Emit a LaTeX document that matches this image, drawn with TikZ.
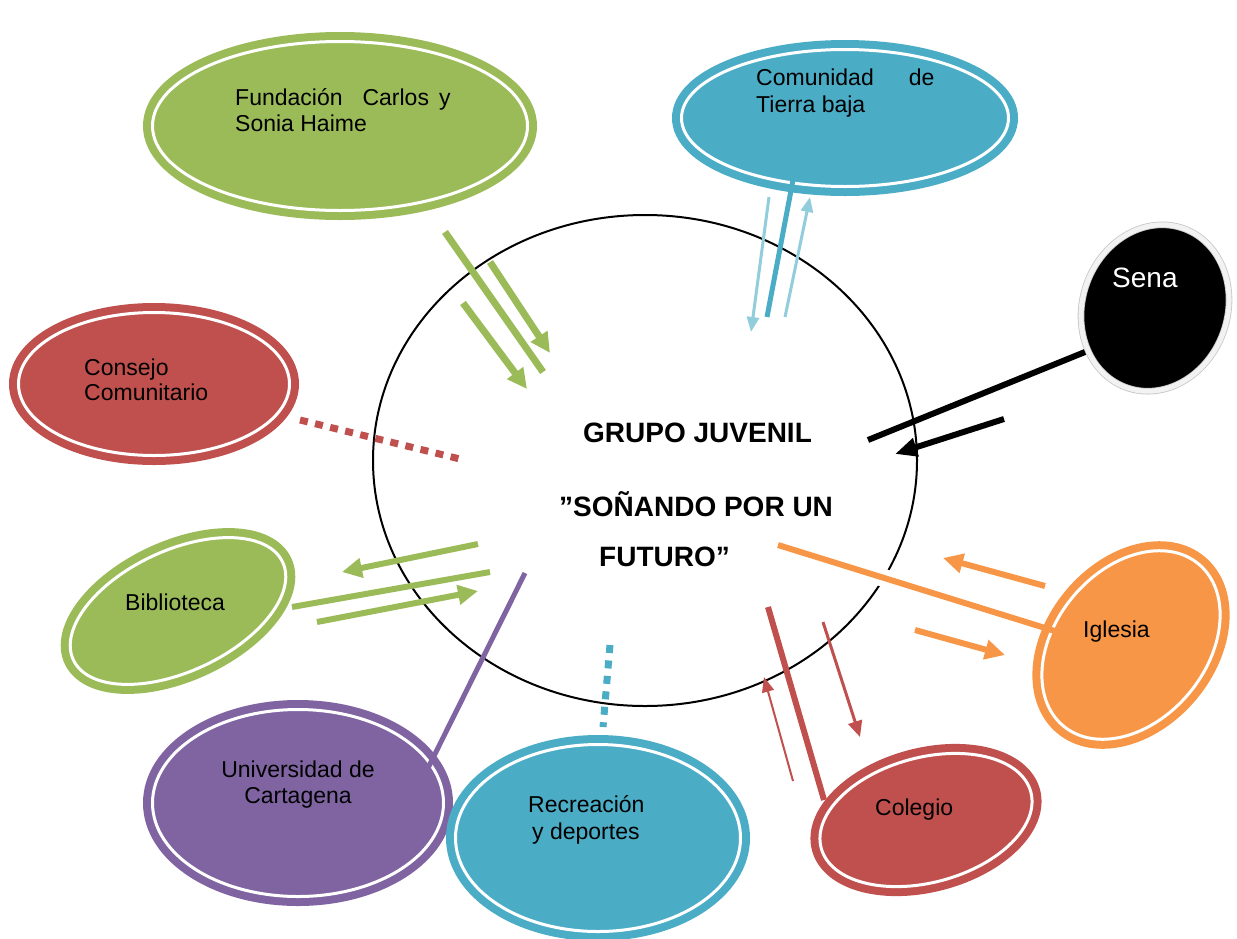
\documentclass[tikz,border=0pt]{standalone}
\usepackage{fontspec}
\setmainfont{Liberation Sans}
\usetikzlibrary{shapes.geometric,arrows.meta}
\definecolor{cgreen}{HTML}{9BBB59}
\definecolor{cteal}{HTML}{4BACC6}
\definecolor{cred}{HTML}{C0504D}
\definecolor{cpurple}{HTML}{8064A2}
\definecolor{corange}{HTML}{F79646}
\definecolor{clight}{HTML}{92CDDC}
\tikzset{
  ring/.style={ellipse, fill=#1, draw=#1, double=white, double distance=3pt, line width=8pt, inner sep=0pt, outer sep=0pt},
  senaring/.style={ellipse, fill=black, draw=gray!45, double=white!95!black, double distance=5pt, line width=0.8pt, inner sep=0pt},
  lbl/.style={anchor=base west, inner sep=0pt, font=\fontsize{23}{27}\selectfont},
  clbl/.style={anchor=base, inner sep=0pt, font=\fontsize{23}{27}\selectfont},
  blbl/.style={anchor=base west, inner sep=0pt, font=\fontsize{28}{32}\selectfont\bfseries},
  bigarrow/.style={-{Triangle[length=20pt,width=19pt]}},
  thinarrow/.style={-{Triangle[length=15pt,width=12pt]}},
  dotline/.style={dash pattern=on 8pt off 7.5pt},
}
\begin{document}
\begin{tikzpicture}[x=1pt,y=-1pt]
\useasboundingbox (0,0) rectangle (1237,938);
% ellipses
\node[ring=cgreen, minimum width=375pt, minimum height=169pt] (fund) at (340,126) {};
\node[ring=cteal, minimum width=327pt, minimum height=137pt] (comu) at (845,118) {};
\node[ring=cred, minimum width=271pt, minimum height=143pt] (cons) at (154,384) {};
\node[ring=cgreen, minimum width=231pt, minimum height=121pt, rotate=25] (bibl) at (178,611) {};
\node[ring=cpurple, minimum width=291pt, minimum height=187pt] (univ) at (298,803) {};
\node[ring=cteal, minimum width=285pt, minimum height=187pt] (recr) at (598,838) {};
\node[ring=cred, minimum width=217pt, minimum height=125pt, rotate=15] (cole) at (926,820) {};
\node[ring=corange, minimum width=211pt, minimum height=151pt, rotate=50] (igle) at (1131,645) {};
\node[senaring, minimum width=169pt, minimum height=145pt, rotate=70] (sena) at (1155,308) {};
% central circle
\node[ellipse, draw=black, line width=2pt, minimum width=544pt, minimum height=491pt, inner sep=0pt] (grupo) at (645,460.5) {};
% coordinates
\coordinate (f1a) at (445,232); \coordinate (f1b) at (543,372);
\coordinate (f2a) at (490,262); \coordinate (f2b) at (550,353);
\coordinate (f3a) at (463,303); \coordinate (f3b) at (527,389);
\coordinate (c1a) at (793,180); \coordinate (c1b) at (767,317);
\coordinate (c2a) at (769,197); \coordinate (c2b) at (751,332);
\coordinate (c3a) at (785,317); \coordinate (c3b) at (810,197);
\coordinate (s1a) at (1085,352); \coordinate (s1b) at (868,440);
\coordinate (s2a) at (1004,419); \coordinate (s2b) at (895,454);
\coordinate (k1a) at (300,420); \coordinate (k1b) at (460,459);
\coordinate (b1a) at (292,607); \coordinate (b1b) at (490,572);
\coordinate (b2a) at (478,544); \coordinate (b2b) at (342,572);
\coordinate (b3a) at (317,622); \coordinate (b3b) at (478,591);
\coordinate (u1a) at (525,573); \coordinate (u1b) at (428,768);
\coordinate (r1a) at (610,645); \coordinate (r1b) at (603,727);
\coordinate (g1a) at (768,607); \coordinate (g1b) at (824,800);
\coordinate (g2a) at (823,622); \coordinate (g2b) at (860,737);
\coordinate (g3a) at (793,781); \coordinate (g3b) at (764,677);
\coordinate (i1a) at (778,545); \coordinate (i1b) at (1058,632);
\coordinate (i2a) at (1045,586); \coordinate (i2b) at (943,558);
\coordinate (i3a) at (915,630); \coordinate (i3b) at (1005,655);
\coordinate (gapa) at (860,570.5); \coordinate (gapb) at (905,584.5);
% connectors
\draw[cgreen, line width=7pt] (f1a) -- (f1b);
\draw[cgreen, line width=7pt, bigarrow] (f2a) -- (f2b);
\draw[cgreen, line width=7pt, bigarrow] (f3a) -- (f3b);
\draw[cteal, line width=5pt] (c1a) -- (c1b);
\draw[clight, line width=3pt, thinarrow] (c2a) -- (c2b);
\draw[clight, line width=3pt, thinarrow] (c3a) -- (c3b);
\draw[black, line width=6pt] (s1a) -- (s1b);
\draw[black, line width=6pt, -{Triangle[length=22pt,width=18pt]}] (s2a) -- (s2b);
\draw[cred, line width=7pt, dotline] (k1a) -- (k1b);
\draw[cgreen, line width=6pt] (b1a) -- (b1b);
\draw[cgreen, line width=6pt, bigarrow] (b2a) -- (b2b);
\draw[cgreen, line width=6pt, bigarrow] (b3a) -- (b3b);
\draw[cpurple, line width=5pt] (u1a) -- (u1b);
\draw[cteal, line width=7pt, dotline] (r1a) -- (r1b);
\draw[cred, line width=6pt] (g1a) -- (g1b);
\draw[cred, line width=3pt, -{Triangle[length=16pt,width=14pt]}] (g2a) -- (g2b);
\draw[cred, line width=2pt, thinarrow] (g3a) -- (g3b);
\draw[white, line width=18pt] (gapa) -- (gapb);
\draw[corange, line width=6pt] (i1a) -- (i1b);
\draw[corange, line width=6pt, bigarrow] (i2a) -- (i2b);
\draw[corange, line width=6pt, bigarrow] (i3a) -- (i3b);
% texts
\node[lbl] (tf1) at (235,105) {Fundación\hspace{20pt}Carlos\hspace{10pt}y};
\node[lbl] (tf2) at (235,131) {Sonia Haime};
\node[lbl] (tc1) at (756,85) {Comunidad\hspace{35pt}de};
\node[lbl] (tc2) at (756,112) {Tierra baja};
\node[anchor=base west, inner sep=0pt, font=\fontsize{28}{32}\selectfont, text=white] (ts) at (1112,287) {Sena};
\node[lbl] (tk1) at (84,375) {Consejo};
\node[lbl] (tk2) at (84,400) {Comunitario};
\node[lbl] (tb) at (125,610) {Biblioteca};
\node[clbl] (tu1) at (298,777) {Universidad de};
\node[clbl] (tu2) at (298,803) {Cartagena};
\node[lbl] (tr1) at (528,812) {Recreación};
\node[lbl] (tr2) at (532,839) {y deportes};
\node[lbl] (tg) at (875,815) {Colegio};
\node[lbl] (ti) at (1083,637) {Iglesia};
\node[blbl] (tm1) at (583,442) {GRUPO JUVENIL};
\node[blbl] (tm2) at (559,516) {”SOÑANDO POR UN};
\node[blbl] (tm3) at (599,566) {FUTURO”};
\end{tikzpicture}
\end{document}
